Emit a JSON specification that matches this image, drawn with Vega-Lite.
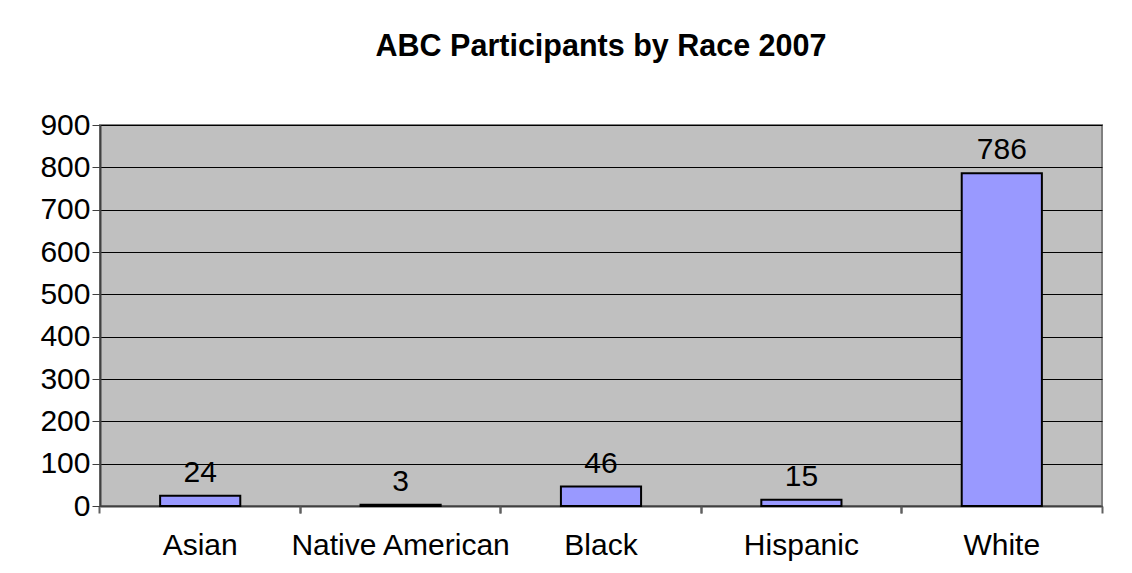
{
  "$schema": "https://vega.github.io/schema/vega-lite/v6.json",
  "width": 1002,
  "height": 381,
  "autosize": {"type": "none"},
  "padding": {"left": 100, "top": 125, "right": 30, "bottom": 67},
  "background": "white",
  "title": {
    "text": "ABC Participants by Race 2007",
    "font": "Liberation Sans",
    "fontSize": 30.5,
    "fontWeight": "bold",
    "color": "black",
    "anchor": "middle",
    "frame": "group",
    "baseline": "bottom",
    "offset": 18
  },
  "data": {
    "values": [
      {"race": "Asian", "participants": 24},
      {"race": "Native American", "participants": 3},
      {"race": "Black", "participants": 46},
      {"race": "Hispanic", "participants": 15},
      {"race": "White", "participants": 786}
    ]
  },
  "encoding": {
    "y": {
      "field": "participants",
      "type": "quantitative",
      "scale": {"domain": [0, 900], "nice": false, "zero": true},
      "axis": {
        "title": null,
        "values": [0, 100, 200, 300, 400, 500, 600, 700, 800, 900],
        "labelFont": "Liberation Sans",
        "labelFontSize": 30,
        "labelColor": "black",
        "labelPadding": 2,
        "tickSize": 8,
        "tickColor": "#404040",
        "tickWidth": 1,
        "domainColor": "#404040",
        "domainWidth": 2,
        "grid": true,
        "gridColor": "black",
        "gridWidth": 1,
        "gridOpacity": 1
      }
    }
  },
  "layer": [
    {
      "mark": {"type": "bar", "color": "#9999FF", "stroke": "black", "strokeWidth": 2},
      "encoding": {
        "x": {
          "field": "race",
          "type": "nominal",
          "sort": null,
          "scale": {"paddingInner": 0.6, "paddingOuter": 0.3},
          "axis": {
            "orient": "bottom",
            "title": null,
            "labelAngle": 0,
            "labelLimit": 0,
            "labelFont": "Liberation Sans",
            "labelFontSize": 30,
            "labelColor": "black",
            "labelPadding": 17,
            "bandPosition": -0.75,
            "tickSize": 7,
            "tickColor": "#606060",
            "tickWidth": 2,
            "domainColor": "#404040",
            "domainWidth": 2,
            "grid": false
          }
        }
      }
    },
    {
      "mark": {
        "type": "text",
        "font": "Liberation Sans",
        "fontSize": 30,
        "color": "black",
        "baseline": "alphabetic",
        "dy": -14
      },
      "encoding": {
        "x": {
          "field": "race",
          "type": "nominal",
          "sort": null,
          "scale": {"paddingInner": 0.6, "paddingOuter": 0.3},
          "axis": {
            "orient": "bottom",
            "title": null,
            "labels": false,
            "domain": false,
            "bandPosition": 1.75,
            "tickSize": 7,
            "tickColor": "#606060",
            "tickWidth": 2,
            "grid": false
          }
        },
        "text": {"field": "participants", "type": "quantitative"}
      }
    }
  ],
  "resolve": {"axis": {"x": "independent"}},
  "config": {
    "view": {"fill": "#C0C0C0", "stroke": "#808080", "strokeWidth": 2}
  }
}
